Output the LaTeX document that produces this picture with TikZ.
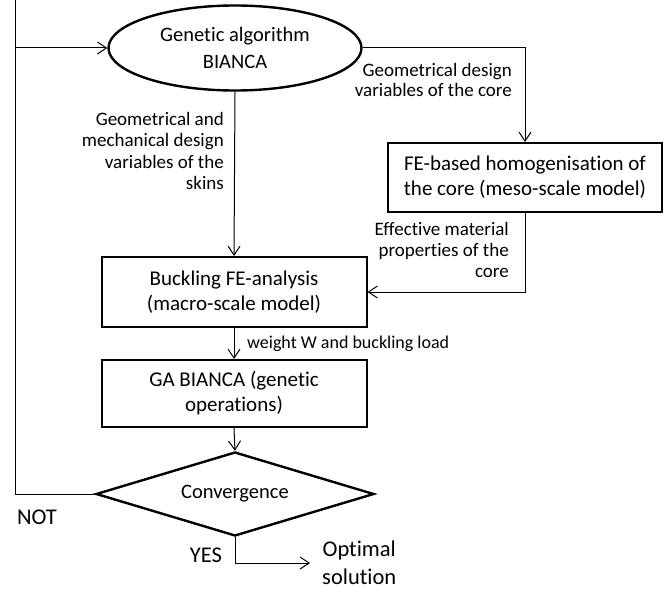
\documentclass[tikz,border=0pt]{standalone}
\usepackage{fontspec}
\setmainfont{Carlito}[Ligatures=NoCommon]
\usetikzlibrary{shapes.geometric,arrows.meta}

\begin{document}
\begin{tikzpicture}[x=1pt,y=-1pt,
  box/.style={draw, line width=2pt, minimum width=265pt, inner sep=0pt, align=center, font=\fontsize{21}{25}\selectfont},
  start/.style={ellipse, draw, line width=2.4pt, minimum width=253pt, minimum height=85pt, inner sep=0pt, align=center, font=\fontsize{20.5}{27}\selectfont},
  decision/.style={diamond, aspect=3.3, draw, line width=2.4pt, minimum width=278pt, minimum height=84pt, inner sep=0pt, font=\fontsize{20.5}{25}\selectfont},
  note/.style={align=right, inner sep=2pt, font=\fontsize{19}{21.3}\selectfont},
  big/.style={inner sep=2pt, align=center, font=\fontsize{22.5}{28}\selectfont},
  flow/.style={line width=1pt, -{Straight Barb[length=9pt,width=12pt]}}]
\useasboundingbox (0,0) rectangle (671,591);

    \node[start] (ga) at (235,48) {Genetic algorithm\\BIANCA};
    \node[box, minimum width=274pt, minimum height=69pt] (fe) at (525,177.5) {FE-based homogenisation of\\the core (meso-scale model)};
    \node[box, minimum height=70pt] (buck) at (234,292) {Buckling FE-analysis\\(macro-scale model)};
    \node[box, minimum height=67pt] (gaop) at (234,393.5) {GA BIANCA (genetic\\operations)};
    \node[decision] (conv) at (235,494) {Convergence};
    \node[big, anchor=west, inner xsep=12pt] (opt) at (310,563) {Optimal\\solution};
    \node[big] (no) at (37,517) {NOT};
    \node[big] (yes) at (206,555) {YES};

    \node[note, anchor=east] (skins) at (226,151) {Geometrical and\\mechanical design\\variables of the\\skins};
    \node[note, anchor=east, font=\fontsize{19}{19.5}\selectfont] (coregeo) at (514,80) {Geometrical design\\variables of the core};
    \node[note, anchor=east] (props) at (511,250) {Effective material\\properties of the\\core};
    \node[note, anchor=west, font=\fontsize{18}{21}\selectfont] (load) at (245,344) {weight W and buckling load};

    \coordinate (looptop) at (15,0);
    \coordinate (loop) at (15,48);

    \draw[line width=1pt] (conv.west) -| (looptop);
    \draw[flow] (loop) -- (ga.west);
    \draw[flow] (ga.east) -| (fe.north);
    \draw[flow] (ga.south) -- (buck.north);
    \draw[flow] (fe.south) |- (buck.east);
    \draw[flow] (buck.south) -- (gaop.north);
    \draw[flow] (gaop.south) -- (conv.north);
    \draw[flow] (conv.south) |- (opt.west);

\end{tikzpicture}
\end{document}
